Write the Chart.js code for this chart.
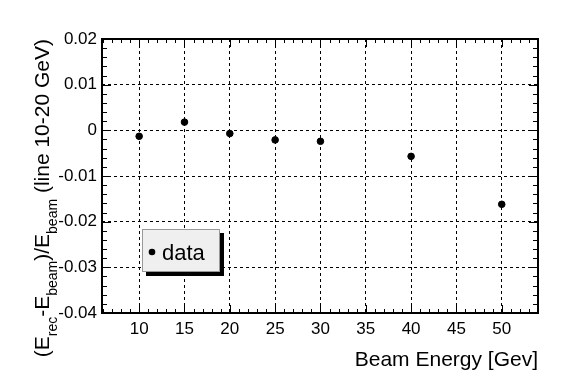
<!DOCTYPE html>
<html>
<head>
<meta charset="utf-8">
<script src="https://cdn.jsdelivr.net/npm/chart.js@4"></script>
<style>
  body { margin: 0; background: #fff; }
  #wrap { width: 567px; height: 384px; }
</style>
</head>
<body>
<div id="wrap"><canvas id="grafico" width="567" height="384"></canvas></div>
<script>
// dados
const energias = [10, 15, 20, 25, 30, 40, 50];
const desvios = [-0.0013, 0.0018, -0.0007, -0.0021, -0.0024, -0.0057, -0.0162];
const xTicks = [10, 15, 20, 25, 30, 35, 40, 45, 50];
const yTicks = [-0.04, -0.03, -0.02, -0.01, 0, 0.01, 0.02];
const legendaTexto = 'data';

const FONTE = '"Liberation Sans", Arial, Helvetica, sans-serif';

// moldura, marcas menores, titulos e legenda
const molduraPlugin = {
    id: 'moldura',
    afterDraw(chart) {
        const ctx = chart.ctx;
        const a = chart.chartArea;
        const x = chart.scales.x;
        const y = chart.scales.y;
        ctx.save();
        ctx.strokeStyle = '#000';
        ctx.lineWidth = 1;
        // marcas no eixo x (embaixo e em cima)
        for (let v = 6; v <= 54; v++) {
            const px = Math.round(x.getPixelForValue(v)) + 0.5;
            const len = v % 5 === 0 ? 8 : 4;
            ctx.beginPath();
            ctx.moveTo(px, a.bottom); ctx.lineTo(px, a.bottom - len);
            ctx.moveTo(px, a.top); ctx.lineTo(px, a.top + len);
            ctx.stroke();
        }
        // marcas no eixo y (esquerda e direita)
        for (let i = -20; i <= 10; i++) {
            const v = i * 0.002;
            const py = Math.round(y.getPixelForValue(v)) + 0.5;
            const len = i % 5 === 0 ? 9 : 5;
            ctx.beginPath();
            ctx.moveTo(a.left, py); ctx.lineTo(a.left + len, py);
            ctx.moveTo(a.right, py); ctx.lineTo(a.right - len, py);
            ctx.stroke();
        }
        ctx.lineWidth = 2;
        ctx.strokeRect(a.left, a.top, a.right - a.left, a.bottom - a.top);

        // titulo do eixo x
        ctx.fillStyle = '#000';
        ctx.font = '21px ' + FONTE;
        ctx.textAlign = 'right';
        ctx.textBaseline = 'alphabetic';
        ctx.fillText('Beam Energy [Gev]', a.right, 366);

        // titulo do eixo y com indices
        const partes = [
            ['(E', false], ['rec', true], ['-E', false], ['beam', true],
            [')/E', false], ['beam', true], [' (line 10-20 GeV)', false]
        ];
        const fN = '21px ' + FONTE;
        const fS = '14px ' + FONTE;
        let total = 0;
        partes.forEach(p => { ctx.font = p[1] ? fS : fN; total += ctx.measureText(p[0]).width; });
        ctx.translate(49, a.top + total);
        ctx.rotate(-Math.PI / 2);
        ctx.textAlign = 'left';
        let pos = 0;
        partes.forEach(p => {
            ctx.font = p[1] ? fS : fN;
            ctx.fillText(p[0], pos, p[1] ? 8 : 0);
            pos += ctx.measureText(p[0]).width;
        });
        ctx.restore();

        // legenda
        ctx.save();
        ctx.fillStyle = '#000';
        ctx.fillRect(146, 233, 78, 43);
        ctx.fillStyle = '#efefef';
        ctx.fillRect(142, 229, 78, 43);
        ctx.strokeStyle = '#999';
        ctx.lineWidth = 1;
        ctx.strokeRect(142.5, 229.5, 77, 42);
        ctx.fillStyle = '#000';
        ctx.beginPath();
        ctx.arc(152, 252, 3.3, 0, Math.PI * 2);
        ctx.fill();
        ctx.font = '22px ' + FONTE;
        ctx.textBaseline = 'alphabetic';
        ctx.fillText(legendaTexto, 162, 260);
        ctx.restore();
    }
};

const ctx = document.getElementById('grafico').getContext('2d');
new Chart(ctx, {
    type: 'scatter',
    data: {
        datasets: [{
            label: legendaTexto,
            data: energias.map((e, i) => ({ x: e, y: desvios[i] })),
            backgroundColor: '#000',
            borderColor: '#000',
            pointRadius: 3.3,
            pointHoverRadius: 3.3
        }]
    },
    plugins: [molduraPlugin],
    options: {
        responsive: false,
        animation: false,
        events: [],
        layout: { padding: { left: 0, top: 39, right: 29, bottom: 0 } },
        plugins: { legend: { display: false }, tooltip: { enabled: false } },
        scales: {
            x: {
                type: 'linear',
                min: 5.9,
                max: 54,
                afterBuildTicks: (s) => { s.ticks = xTicks.map(v => ({ value: v })); },
                afterFit: (s) => { s.height = 71; },
                border: { display: false, dash: [3, 3] },
                grid: { color: '#000', lineWidth: 1, drawTicks: false },
                ticks: {
                    color: '#000',
                    font: { family: FONTE, size: 17 },
                    padding: 6,
                    maxRotation: 0,
                    autoSkip: false
                }
            },
            y: {
                type: 'linear',
                min: -0.04,
                max: 0.02,
                afterBuildTicks: (s) => { s.ticks = yTicks.map(v => ({ value: v })); },
                afterFit: (s) => { s.width = 102; },
                border: { display: false, dash: [3, 3] },
                grid: { color: '#000', lineWidth: 1, drawTicks: false },
                ticks: {
                    color: '#000',
                    font: { family: FONTE, size: 17 },
                    padding: 5,
                    callback: (v) => v === 0 ? '0' : parseFloat(v.toFixed(2)).toString()
                }
            }
        }
    }
});
</script>
</body>
</html>
